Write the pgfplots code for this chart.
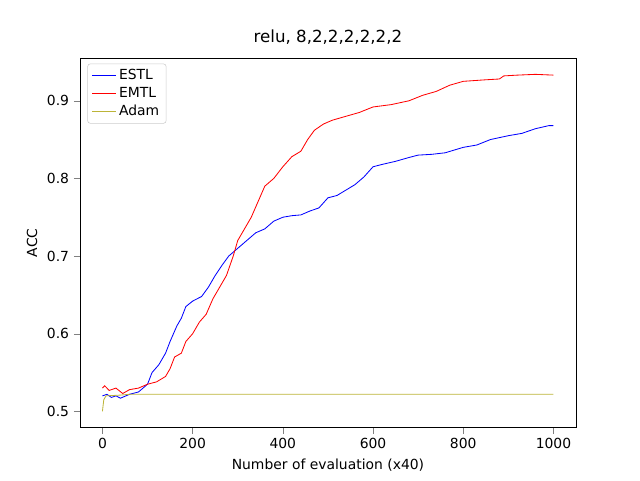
\documentclass[border=0pt]{standalone}
\usepackage{pgfplots}
\pgfplotsset{compat=1.18}
\usepackage{fontspec}
\setmainfont{DejaVu Sans}
\begin{document}
\begin{tikzpicture}
\begin{axis}[scale only axis, width=357pt, height=266pt,
xmin=-50, xmax=1050, ymin=0.479, ymax=0.955,
xtick={0,200,400,600,800,1000}, ytick={0.5,0.6,0.7,0.8,0.9},
xticklabel style={/pgf/number format/1000 sep={}},
yticklabel style={/pgf/number format/.cd,fixed,precision=1,zerofill},
/pgf/number format/assume math mode=true,
tick label style={font=\fontsize{10}{12}\selectfont},
label style={font=\fontsize{10}{12}\selectfont},
title style={font=\fontsize{12}{14}\selectfont},
title={relu, 8,2,2,2,2,2,2},
xlabel={Number of evaluation (x40)}, ylabel={ACC},
tick align=outside, tick pos=left,
legend pos=north west, legend cell align=left,
legend style={font=\fontsize{10}{12}\selectfont, draw=black!20, rounded corners=2pt, at={(0.015,0.985)}},
clip=false]
\addplot[blue, line width=0.6pt] coordinates {(0,0.52)(10,0.522)(20,0.518)(30,0.52)(40,0.517)(60,0.522)(80,0.525)(90,0.53)(100,0.535)(110,0.55)(125,0.56)(140,0.575)(150,0.59)(165,0.61)(175,0.62)(185,0.635)(200,0.642)(220,0.648)(235,0.66)(250,0.675)(265,0.688)(280,0.7)(300,0.71)(320,0.72)(340,0.73)(360,0.735)(380,0.745)(400,0.75)(420,0.752)(440,0.753)(460,0.758)(480,0.762)(500,0.775)(520,0.778)(540,0.785)(560,0.792)(580,0.802)(600,0.815)(620,0.818)(650,0.822)(680,0.827)(700,0.83)(730,0.831)(760,0.833)(800,0.84)(830,0.843)(860,0.85)(900,0.855)(930,0.858)(960,0.864)(990,0.868)(1000,0.868)};
\addlegendentry{ESTL}
\addplot[red, line width=0.6pt] coordinates {(0,0.53)(5,0.533)(15,0.527)(30,0.53)(45,0.523)(60,0.528)(80,0.53)(100,0.535)(120,0.538)(140,0.545)(150,0.555)(160,0.57)(175,0.575)(185,0.59)(200,0.6)(215,0.615)(230,0.625)(245,0.645)(260,0.66)(275,0.675)(290,0.7)(300,0.72)(315,0.735)(330,0.75)(345,0.77)(360,0.79)(380,0.8)(400,0.815)(420,0.828)(440,0.835)(455,0.85)(470,0.862)(490,0.87)(510,0.875)(540,0.88)(570,0.885)(600,0.892)(640,0.895)(680,0.9)(710,0.907)(740,0.912)(770,0.92)(800,0.925)(850,0.927)(880,0.928)(890,0.932)(920,0.933)(960,0.934)(1000,0.933)};
\addlegendentry{EMTL}
\addplot[yellow!70!black, line width=0.6pt] coordinates {(0,0.5)(3,0.515)(8,0.52)(40,0.521)(60,0.522)(1000,0.522)};
\addlegendentry{Adam}
\path (rel axis cs:-0.161,-0.1436) (rel axis cs:1.129,1.157);
\end{axis}
\end{tikzpicture}
\end{document}
